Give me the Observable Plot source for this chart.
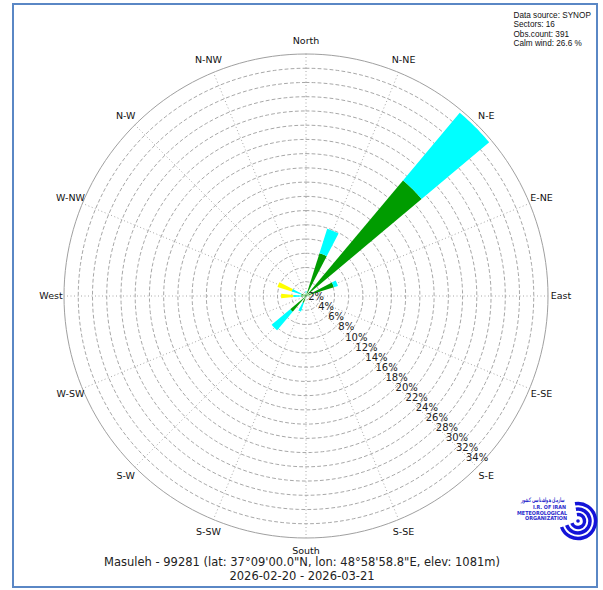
<!DOCTYPE html>
<html><head><meta charset="utf-8">
<script src="https://cdn.jsdelivr.net/npm/d3@7"></script>
<script src="https://cdn.jsdelivr.net/npm/@observablehq/plot@0.6"></script>
<style>
body{margin:0;background:#fff;}
#wrap{position:relative;width:603px;height:590px;overflow:hidden;background:#fff;}
#frame{position:absolute;left:12px;top:3px;width:586px;height:585px;box-sizing:border-box;border:2px solid #5a87c5;pointer-events:none;}
#logo{position:absolute;left:500px;top:490px;}
</style>
</head><body>
<div id="wrap"><div id="frame"></div></div>
<script>
// ---- data ----
const directions = ["N","NNE","NE","ENE","E","ESE","SE","SSE","S","SSW","SW","WSW","W","WNW","NW","NNW"];
const dirLabels = ["North","N-NE","N-E","E-NE","East","E-SE","S-E","S-SE","South","S-SW","S-W","W-SW","West","W-NW","N-W","N-NW"];
const greenPct  = [0.4, 6.3, 21.2, 4.1, 0.5, 0, 0, 0, 0.3, 1.0, 2.9, 0.3, 0.7, 0.7, 0.3, 0.3];
const cyanPct   = [0.3, 3.6, 12.4, 0.6, 0,   0, 0, 0, 0,   1.3, 3.4, 0,   1.1, 1.4, 0,   0  ];
const yellowPct = [0,   0,   0,    0,   0,   0, 0, 0, 0,   0,   0,   0,   1.7, 2.1, 0,   0  ];
const ringTicks = [2,4,6,8,10,12,14,16,18,20,22,24,26,28,30,32,34];
const tickLabels = ["2%","4%","6%","8%","10%","12%","14%","16%","18%","20%","22%","24%","26%","28%","30%","32%","34%"];
const infoLines = ["Data source: SYNOP","Sectors: 16","Obs.count: 391","Calm wind: 26.6 %"];
const captionLines = ["Masuleh - 99281 (lat: 37°09'00.0\"N, lon: 48°58'58.8\"E, elev: 1081m)","2026-02-20 - 2026-03-21"];

// ---- layout ----
const W = 603, H = 590, cx = 305.5, cy = 295.5, Rpx = 242;
const rMax = ringTicks[ringTicks.length - 1];
const k = Rpx / rMax;
const sectorDeg = 360 / directions.length;
const halfWidth = 5; // degrees
const rad = d => d * Math.PI / 180;
const px = (r, deg) => r * Math.sin(rad(deg));
const py = (r, deg) => r * Math.cos(rad(deg));

// wedge polygons from the stacked series
function wedges(values, base) {
  const pts = [];
  values.forEach((v, i) => {
    if (!(v > 0)) return;
    const r0 = base[i], r1 = base[i] + v, a = i * sectorDeg;
    const n = 12;
    for (let j = 0; j <= n; j++) { const t = a - halfWidth + 2 * halfWidth * j / n; pts.push({id: i, x: px(r1, t), y: py(r1, t)}); }
    for (let j = n; j >= 0; j--) { const t = a - halfWidth + 2 * halfWidth * j / n; pts.push({id: i, x: px(r0, t), y: py(r0, t)}); }
  });
  return pts;
}
const base0 = directions.map(() => 0);
const base1 = greenPct.slice();
const base2 = greenPct.map((g, i) => g + cyanPct[i]);
const greenPts = wedges(greenPct, base0);
const cyanPts = wedges(cyanPct, base1);
const yellowPts = wedges(yellowPct, base2);

const ringPts = [];
ringTicks.forEach(v => { for (let j = 0; j <= 360; j += 2) ringPts.push({ring: v, x: px(v, j), y: py(v, j)}); });
const innerRings = ringPts.filter(d => d.ring < rMax);
const outerRing = ringPts.filter(d => d.ring === rMax);
const spokes = directions.map((d, i) => ({x2: px(rMax, i * sectorDeg), y2: py(rMax, i * sectorDeg)}));
const labelR = rMax * 255 / 242;
const dirText = dirLabels.map((t, i) => ({t, x: px(labelR, i * sectorDeg), y: py(labelR, i * sectorDeg)}));
const tickText = ringTicks.map((v, i) => ({t: tickLabels[i], x: px(v, 135), y: py(v, 135)}));

const chart = Plot.plot({
  width: W, height: H, margin: 0,
  style: {fontFamily: "DejaVu Sans", background: "transparent"},
  x: {domain: [-cx / k, (W - cx) / k], axis: null},
  y: {domain: [-(H - cy) / k, cy / k], axis: null},
  marks: [
    Plot.link(spokes, {x1: 0, y1: 0, x2: "x2", y2: "y2", stroke: "#a8a8a8", strokeWidth: 1, strokeDasharray: "1,2.5"}),
    Plot.line(innerRings, {x: "x", y: "y", z: "ring", stroke: "#a8a8a8", strokeWidth: 1, strokeDasharray: "3,3", curve: "linear"}),
    Plot.line(outerRing, {x: "x", y: "y", stroke: "#a0a0a0", strokeWidth: 1}),
    Plot.line(greenPts, {x: "x", y: "y", z: "id", fill: "#009c00", stroke: "none"}),
    Plot.line(cyanPts, {x: "x", y: "y", z: "id", fill: "#00ffff", stroke: "none"}),
    Plot.line(yellowPts, {x: "x", y: "y", z: "id", fill: "#ffff00", stroke: "none"}),
    Plot.text(dirText, {x: "x", y: "y", text: "t", fontSize: 9.5, fill: "#111"}),
    Plot.text(tickText, {x: "x", y: "y", text: "t", fontSize: 10, fill: "#222", dy: -9}),
    Plot.text([infoLines.join("\n")], {frameAnchor: "top-right", text: d => d, textAnchor: "start", lineAnchor: "top", dx: -90, dy: 10.5, fontSize: 8.2, fontFamily: "Liberation Sans", lineHeight: 1.15, fill: "#111"}),
    Plot.text([captionLines[0]], {frameAnchor: "bottom", text: d => d, dx: 0, dy: -25, fontSize: 11.5, fill: "#222"}),
    Plot.text([captionLines[1]], {frameAnchor: "bottom", text: d => d, dx: 0, dy: -11, fontSize: 11.5, fill: "#222"})
  ]
});
chart.style.position = "absolute"; chart.style.left = "0"; chart.style.top = "0";
const wrap = document.getElementById("wrap");
wrap.insertBefore(chart, wrap.firstChild);

// logo (decorative)
const logo = `<svg id="logo" width="100" height="60" viewBox="0 0 100 60">
 <text x="43" y="12" font-size="5.5" font-family="Noto Sans" font-weight="bold" fill="#2a2acc" text-anchor="middle" textLength="44" lengthAdjust="spacingAndGlyphs">سازمان هواشناسی کشور</text>
 <g fill="#2a2acc" font-family="DejaVu Sans" font-weight="bold" text-anchor="end">
  <text x="66" y="19" font-size="5.5" textLength="33" lengthAdjust="spacingAndGlyphs">I.R. OF IRAN</text>
  <text x="67" y="24.5" font-size="5.5" textLength="50" lengthAdjust="spacingAndGlyphs">METEOROLOGICAL</text>
  <text x="67" y="30" font-size="5.5" textLength="42" lengthAdjust="spacingAndGlyphs">ORGANIZATION</text>
 </g>
 <g fill="none" stroke="#1414d8" stroke-width="3.5" stroke-linecap="butt">
  <path d="M 75 13.8 A 17.5 17.5 0 1 1 61.6 37"/>
  <path d="M 75.9 19.2 A 12 12 0 1 1 66.7 35.1"/>
  <path d="M 76.9 24.6 A 6.5 6.5 0 1 1 71.9 33.2"/>
 </g>
 <circle cx="78" cy="31" r="1.8" fill="#1414d8"/>
</svg>`;
wrap.insertAdjacentHTML("beforeend", logo);
</script>
</body></html>
